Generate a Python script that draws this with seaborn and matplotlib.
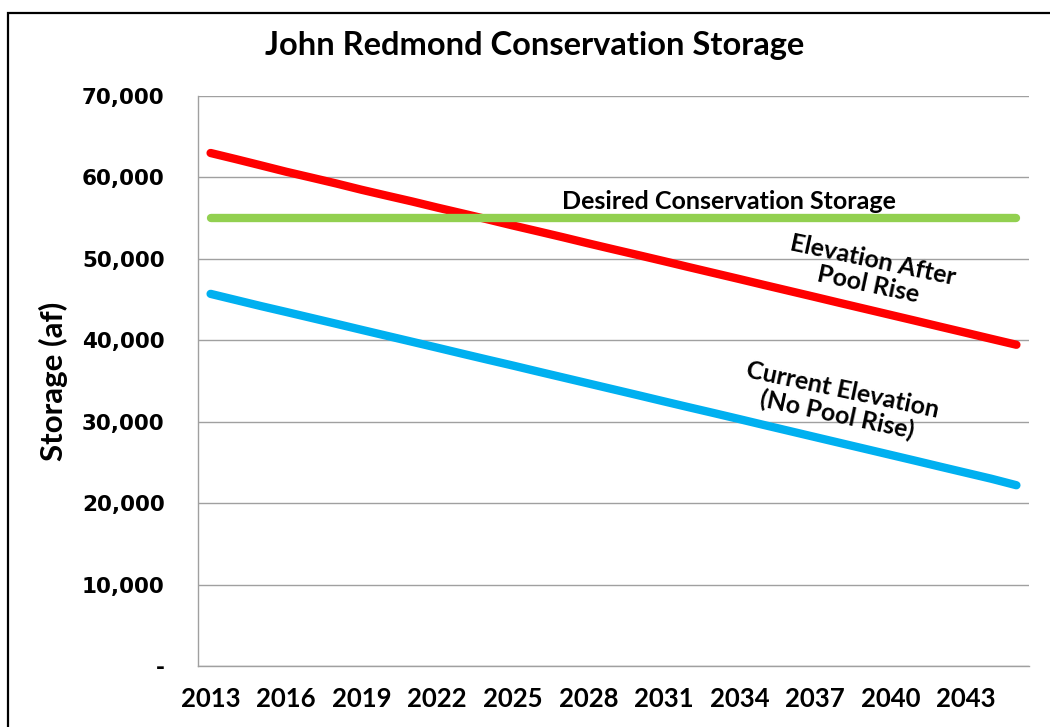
import matplotlib
matplotlib.use("Agg")
import matplotlib.pyplot as plt
import pandas as pd
import seaborn as sns
from matplotlib.ticker import FuncFormatter, MultipleLocator
from matplotlib.patches import Rectangle

# Annual conservation storage (acre-feet), 2013-2045
years = list(range(2013, 2046))
after_pool_rise = [63000, 62250, 61480, 60700, 59980, 59250, 58480, 57760, 57050, 56300,
                   55580, 54850, 54100, 53380, 52650, 51900, 51170, 50450, 49720, 48980,
                   48250, 47520, 46780, 46050, 45320, 44580, 43850, 43120, 42390, 41650,
                   40920, 40180, 39450]
current_elevation = [45700, 44950, 44200, 43480, 42750, 42020, 41280, 40550, 39820, 39090,
                     38350, 37620, 36900, 36160, 35430, 34700, 33970, 33240, 32500, 31770,
                     31050, 30320, 29580, 28850, 28120, 27390, 26660, 25930, 25200, 24460,
                     23730, 23000, 22200]
desired_storage = [55000, 55000, 55000, 55000, 55000, 55000, 55000, 55000, 55000, 55000,
                   55000, 55000, 55000, 55000, 55000, 55000, 55000, 55000, 55000, 55000,
                   55000, 55000, 55000, 55000, 55000, 55000, 55000, 55000, 55000, 55000,
                   55000, 55000, 55000]
tick_years = [2013, 2016, 2019, 2022, 2025, 2028, 2031, 2034, 2037, 2040, 2043]
series_names = ["Elevation After Pool Rise", "Desired Conservation Storage", "Current Elevation"]
series_colors = ["#FF0000", "#92D050", "#00B0F0"]

df = pd.DataFrame({
    "Year": years * 3,
    "Storage": after_pool_rise + desired_storage + current_elevation,
    "Series": [series_names[0]] * len(years) + [series_names[1]] * len(years)
              + [series_names[2]] * len(years),
})

sns.set_theme(style="white")
plt.rcParams["font.family"] = ["Lato", "DejaVu Sans"]

fig = plt.figure(figsize=(10.5, 7.27), dpi=100)
ax = fig.add_axes([198 / 1050, 1 - 666 / 727, (1029 - 198) / 1050, (666 - 96) / 727])

sns.lineplot(data=df, x="Year", y="Storage", hue="Series", hue_order=series_names,
             palette=series_colors, linewidth=6.0, legend=False, ax=ax)
for line in ax.lines:
    line.set_solid_capstyle("round")

ax.set_xlim(2012.5, 2045.5)
ax.set_ylim(0, 70000)
ax.yaxis.set_major_locator(MultipleLocator(10000))
ax.yaxis.set_major_formatter(FuncFormatter(lambda v, p: "-" if v == 0 else f"{int(v):,}"))
ax.set_xticks(tick_years)
ax.set_xticklabels([str(y) for y in tick_years])

ax.grid(axis="y", color="#A0A0A0", linewidth=1.0)
ax.set_axisbelow(True)
for side in ["top", "right"]:
    ax.spines[side].set_visible(False)
for side in ["left", "bottom"]:
    ax.spines[side].set_color("#A0A0A0")
    ax.spines[side].set_linewidth(1.0)
ax.tick_params(axis="both", length=0)
ax.tick_params(axis="y", pad=24)
ax.tick_params(axis="x", pad=15)
for lab in ax.get_yticklabels():
    lab.set_fontfamily("DejaVu Sans")
    lab.set_fontweight("bold")
    lab.set_fontsize(15.5)
    lab.set_color("black")
for lab in ax.get_xticklabels():
    lab.set_fontweight("bold")
    lab.set_fontsize(18.5)
    lab.set_color("black")

ax.set_xlabel("")
ax.set_ylabel("Storage (af)", fontsize=22.5, fontweight="bold", color="black", labelpad=10)

fig.text(535 / 1050, 1 - 45 / 727, "John Redmond Conservation Storage",
         ha="center", va="center", fontsize=23.5, fontweight="bold", color="black")

ax.text(2033.6, 57000, "Desired Conservation Storage", ha="center", va="center",
        fontsize=18, fontweight="bold", color="black")
ax.text(2039.2, 48400, "Elevation After\nPool Rise", ha="center", va="center",
        fontsize=18, fontweight="bold", color="black", rotation=-12,
        rotation_mode="anchor", linespacing=1.1)
ax.text(2038.0, 32300, "Current Elevation\n(No Pool Rise)", ha="center", va="center",
        fontsize=18, fontweight="bold", color="black", rotation=-12,
        rotation_mode="anchor", linespacing=1.1)

# outer chart frame
fig.patches.append(Rectangle((8 / 1050, -0.05), 1.2, 1 - 13 / 727 + 0.05,
                             transform=fig.transFigure, fill=False,
                             edgecolor="black", linewidth=1.6))

fig.savefig("out.png", dpi=100)
